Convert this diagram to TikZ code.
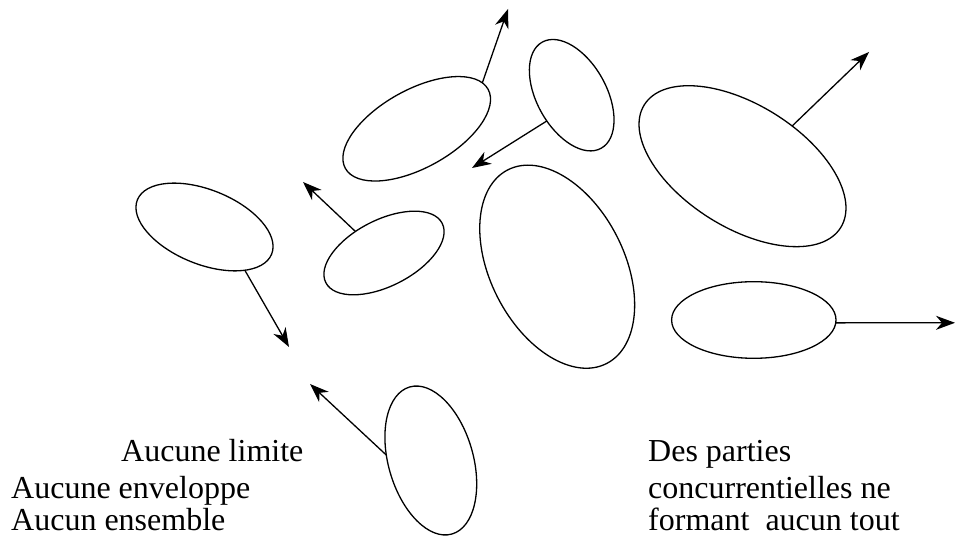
\documentclass[tikz,border=0pt]{standalone}
\usepackage{fontspec}
\setmainfont{Liberation Serif}
\usetikzlibrary{shapes.geometric,arrows.meta}
\begin{document}
\begin{tikzpicture}[x=1pt,y=1pt,
  blob/.style={draw,ellipse,inner sep=0pt,outer sep=0pt,line width=1.3pt},
  push/.style={line width=1.3pt,-{Stealth[length=19pt,width=14pt,inset=6pt]}},
  txt/.style={anchor=base west,inner sep=0pt,font=\fontsize{32}{38}\selectfont}]
\useasboundingbox (0,0) rectangle (955,537);
% ellipses
\node[blob,minimum width=144.8pt,minimum height=74.4pt,rotate=-22] (e1) at (204.5,310) {};
\node[blob,minimum width=130.6pt,minimum height=66.2pt,rotate=27] (e2) at (384,284) {};
\node[blob,minimum width=163.2pt,minimum height=78pt,rotate=29] (e3) at (416.7,408.2) {};
\node[blob,minimum width=121.4pt,minimum height=69.6pt,rotate=119] (e4) at (571.7,441.8) {};
\node[blob,minimum width=217.4pt,minimum height=134pt,rotate=117] (e5) at (557.2,270.3) {};
\node[blob,minimum width=231.6pt,minimum height=122.8pt,rotate=-32] (e6) at (742.5,370.8) {};
\node[blob,minimum width=164.4pt,minimum height=76.6pt] (e7) at (753.8,217) {};
\node[blob,minimum width=153pt,minimum height=84.8pt,rotate=106] (e8) at (430.8,76.5) {};
% arrow tips
\coordinate (t1) at (289,190);
\coordinate (t2) at (303,355);
\coordinate (t3) at (508,528);
\coordinate (t4) at (472,369);
\coordinate (t6) at (869,485);
\coordinate (t7) at (955,214.2);
\coordinate (t8) at (310,153);
\draw[push] (e1.-25) -- (t1);
\draw[push] (e2.116) -- (t2);
\draw[push] (e3.6) -- (t3);
\draw[push] (e4.107) -- (t4);
\draw[push] (e6.71) -- (t6);
\draw[push] (e7.-2) -- (t7);
\draw[push] (e8.67) -- (t8);
% texts
\node[txt] (l1) at (121,75) {Aucune limite};
\node[txt] (l2) at (11,38) {Aucune enveloppe};
\node[txt] (l3) at (11,6) {Aucun ensemble};
\node[txt] (r1) at (648,75) {Des parties};
\node[txt] (r2) at (648,38) {concurrentielles ne};
\node[txt] (r3) at (648,6) {formant~~aucun tout};
\end{tikzpicture}
\end{document}
